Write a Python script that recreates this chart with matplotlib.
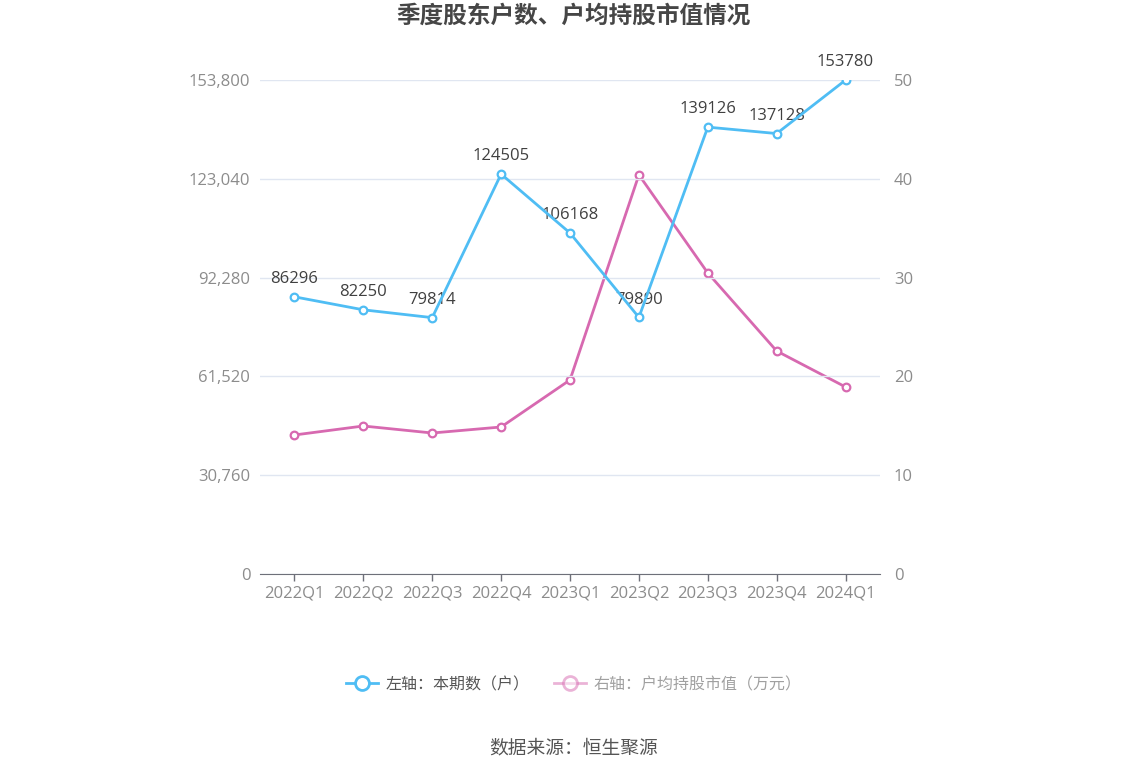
import matplotlib.pyplot as plt
from matplotlib.lines import Line2D

plt.rcParams['font.family'] = ['Open Sans', 'Noto Sans CJK SC', 'DejaVu Sans']

quarters = ['2022Q1', '2022Q2', '2022Q3', '2022Q4', '2023Q1',
            '2023Q2', '2023Q3', '2023Q4', '2024Q1']
holders = [86296, 82250, 79814, 124505, 106168, 79890, 139126, 137128, 153780]
avg_value = [14.07, 14.98, 14.27, 14.88, 19.64, 40.40, 30.47, 22.57, 18.93]

left_ticks = [0, 30760, 61520, 92280, 123040, 153800]
right_ticks = [0, 10, 20, 30, 40, 50]

blue = '#4FBDF4'
pink = '#D769B0'
grid_c = '#E0E6F1'
label_c = '#8C8C8C'

fig = plt.figure(figsize=(11.48, 7.76), dpi=100)
ax = fig.add_axes([260 / 1148, 1 - 574 / 776, 620 / 1148, 494 / 776])
ax2 = ax.twinx()

x = list(range(len(quarters)))

ax.plot(x, holders, color=blue, lw=2, marker='o', ms=5.5, mfc='white',
        mec=blue, mew=1.6, zorder=4)
for xi, v in zip(x, holders):
    ax.annotate(str(v), (xi, v), xytext=(0, 7), textcoords='offset points',
                ha='center', va='bottom', fontsize=12, color='#404040')

ax2.plot(x, avg_value, color=pink, lw=2, marker='o', ms=5.5, mfc='white',
         mec=pink, mew=1.6, zorder=3)

ax.set_xlim(-0.5, len(quarters) - 0.5)
ax.set_ylim(0, 153800)
ax2.set_ylim(0, 50)
ax.set_yticks(left_ticks)
ax.set_yticklabels([f'{t:,}' for t in left_ticks])
ax2.set_yticks(right_ticks)
ax.set_xticks(x)
ax.set_xticklabels(quarters)

ax.grid(axis='y', color=grid_c, lw=1)
ax.set_axisbelow(True)
for a in (ax, ax2):
    for s in ('top', 'right', 'left', 'bottom'):
        a.spines[s].set_visible(False)
ax.spines['bottom'].set_visible(True)
ax.spines['bottom'].set_color('#6E7079')
ax.tick_params(axis='x', colors='#6E7079', length=5, width=1, labelsize=12,
               labelcolor=label_c, pad=3)
ax.tick_params(axis='y', length=0, labelsize=12, labelcolor=label_c, pad=7)
ax2.tick_params(axis='y', length=0, labelsize=12, labelcolor=label_c, pad=10)
ax.set_zorder(ax2.get_zorder() + 1)
ax.patch.set_visible(False)

fig.text(0.5, 1 - 17 / 776, '季度股东户数、户均持股市值情况', ha='center', va='center',
         fontsize=17, fontweight='bold', color='#464646')

handles = [
    Line2D([], [], color=blue, lw=2, marker='o', ms=10, mfc='white', mec=blue, mew=2),
    Line2D([], [], color=pink, lw=2, marker='o', ms=10, mfc='white', mec=pink, mew=2,
           alpha=0.5),
]
leg = fig.legend(handles, ['左轴：本期数（户）', '右轴：户均持股市值（万元）'],
                 loc='center', bbox_to_anchor=(0.5, 1 - 685 / 776), ncol=2,
                 frameon=False, fontsize=11.5, handlelength=2.0, columnspacing=1.5,
                 handletextpad=0.5)
leg.get_texts()[0].set_color('#555555')
leg.get_texts()[1].set_color('#A0A0A0')

fig.text(0.5, 1 - 748 / 776, '数据来源：恒生聚源', ha='center', va='center',
         fontsize=13.5, color='#555555')

fig.savefig('out.png', dpi=100)
